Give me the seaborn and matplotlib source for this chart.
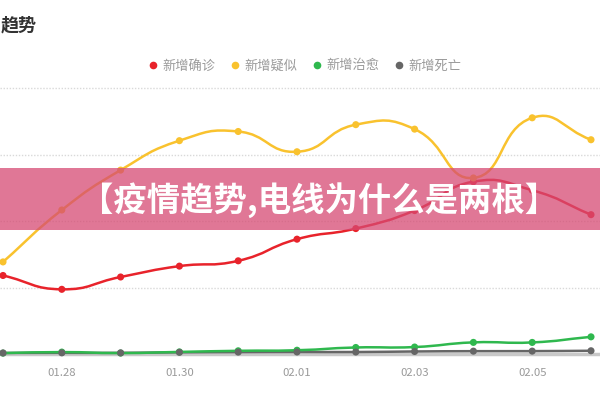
import numpy as np
import pandas as pd
import matplotlib
matplotlib.use("Agg")
import matplotlib.pyplot as plt
import seaborn as sns
from matplotlib.path import Path
from matplotlib.patches import PathPatch, Rectangle
from matplotlib.lines import Line2D

# ---------------- data ----------------
dates = ["01.27", "01.28", "01.29", "01.30", "01.31", "02.01",
         "02.02", "02.03", "02.04", "02.05", "02.06"]
confirmed = [1771, 1459, 1737, 1982, 2102, 2590, 2829, 3235, 3887, 3694, 3143]
suspected = [2077, 3248, 4148, 4812, 5019, 4562, 5173, 5072, 3971, 5328, 4833]
cured = [20, 43, 21, 47, 72, 85, 147, 157, 262, 261, 387]
deaths = [24, 26, 26, 38, 43, 46, 45, 57, 64, 65, 73]
series_names = ["新增确诊", "新增疑似", "新增治愈", "新增死亡"]
tick_labels = ["01.28", "01.30", "02.01", "02.03", "02.05"]
title_text = "趋势"
banner_text = "【疫情趋势,电线为什么是两根】"

colors = {"新增确诊": "#e8232b", "新增疑似": "#f9c22e",
          "新增治愈": "#2fb84e", "新增死亡": "#666666"}

values = {"新增确诊": confirmed, "新增疑似": suspected,
          "新增治愈": cured, "新增死亡": deaths}
rows = []
for name in series_names:
    for i, v in enumerate(values[name]):
        rows.append({"idx": i, "date": dates[i], "value": v, "series": name})
df = pd.DataFrame(rows)

# ---------------- style ----------------
sns.set_theme(style="white")
plt.rcParams["font.family"] = ["Noto Sans CJK SC", "DejaVu Sans"]

fig = plt.figure(figsize=(6, 4), dpi=100)
ax = fig.add_axes([0, 0.115, 1, 0.665])
ax.set_xlim(-0.051, 10.153)
ax.set_ylim(0, 6000)

for s in ["top", "left", "right"]:
    ax.spines[s].set_visible(False)
ax.spines["bottom"].set_color("#c8c8c8")
ax.spines["bottom"].set_linewidth(2.5)

for gy in [1500, 3000, 4500, 6000]:
    ax.axhline(gy, color="#d9d9d9", linewidth=1.0, linestyle=(0, (1, 1.2)),
               zorder=0, clip_on=False)

ax.set_yticks([])
ax.set_xticks([dates.index(t) for t in tick_labels])
ax.set_xticklabels(tick_labels)
ax.tick_params(axis="x", length=0, pad=10, labelsize=8.2, labelcolor="#9a9a9a")
ax.set_xlabel("")
ax.set_ylabel("")


def smooth_patch(xs, ys, color, lw=1.8, smooth=0.5):
    pts = ax.transData.transform(np.column_stack([xs, ys]))
    n = len(pts)
    cin, cout = [], []
    for i in range(n):
        p = pts[i]
        prev = pts[i - 1] if i > 0 else p
        nxt = pts[i + 1] if i < n - 1 else p
        v = nxt - prev
        d0 = np.hypot(*(p - prev))
        d1 = np.hypot(*(nxt - p))
        r = d0 / (d0 + d1) if (d0 + d1) > 0 else 0.5
        cin.append(p - v * smooth * r)
        cout.append(p + v * smooth * (1 - r))
    verts = [pts[0]]
    codes = [Path.MOVETO]
    for i in range(n - 1):
        verts += [cout[i], cin[i + 1], pts[i + 1]]
        codes += [Path.CURVE4] * 3
    verts = ax.transData.inverted().transform(np.array(verts))
    patch = PathPatch(Path(verts, codes), facecolor="none", edgecolor=color,
                      linewidth=lw, zorder=3, clip_on=False,
                      capstyle="round", joinstyle="round")
    ax.add_patch(patch)


for name in ["新增死亡", "新增治愈", "新增确诊", "新增疑似"]:
    sub = df[df["series"] == name]
    smooth_patch(sub["idx"].to_numpy(float), sub["value"].to_numpy(float),
                 colors[name])

sns.scatterplot(data=df, x="idx", y="value", hue="series", palette=colors,
                s=26, linewidth=0, legend=False, ax=ax, zorder=4, clip_on=False)
ax.set_xlabel("")
ax.set_ylabel("")

# legend
handles = [Line2D([0], [0], marker="o", linestyle="", markersize=5.5,
                  markerfacecolor=colors[n], markeredgewidth=0, label=n)
           for n in series_names]
leg = fig.legend(handles=handles, loc="center", bbox_to_anchor=(0.507, 0.835),
                 ncol=4, frameon=False, fontsize=9.5, handletextpad=0.2,
                 columnspacing=1.0, handlelength=1.0)
for t in leg.get_texts():
    t.set_color("#9a9a9a")

# title (left part of the chart is cropped in the reference)
fig.text(1 / 600, 1 - 25 / 400, title_text, ha="left", va="center",
         fontsize=13, fontweight="bold", color="#333333")

# banner overlay
fig.add_artist(Rectangle((0, 1 - 230 / 400), 1, 62 / 400,
                         transform=fig.transFigure, facecolor=(0.84, 0.29, 0.45),
                         alpha=0.75, edgecolor="none", zorder=10))
fig.text(319 / 600, 1 - 200 / 400, banner_text, ha="center", va="center",
         fontsize=24, fontweight="bold", color="white", zorder=11)

fig.savefig("out.png", dpi=100)
